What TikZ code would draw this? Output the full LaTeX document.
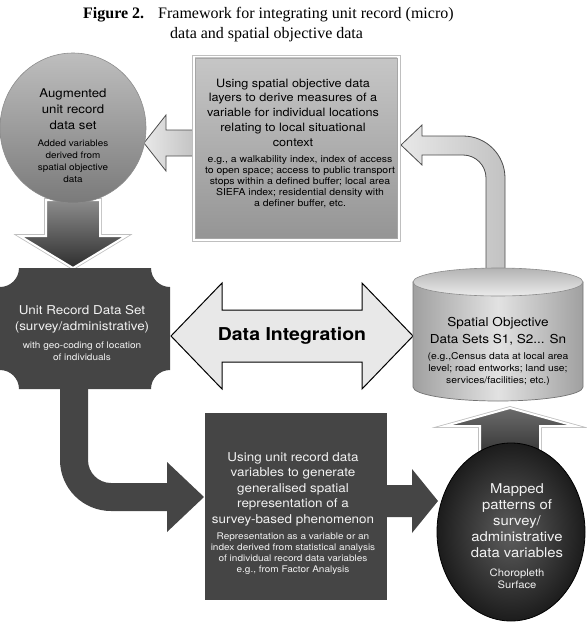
\documentclass[tikz,border=0pt]{standalone}
\usepackage{fontspec}
\setmainfont{Liberation Serif}
\newfontfamily\hv{TeX Gyre Heros}[FakeStretch=1.1]
\definecolor{darkfill}{HTML}{454545}
\definecolor{boxtop}{HTML}{C6C6C6}
\definecolor{boxbot}{HTML}{959595}
\definecolor{augtop}{HTML}{BEBEBE}
\definecolor{augbot}{HTML}{7A7A7A}
\definecolor{lightA}{HTML}{E8E8E8}
\definecolor{lightB}{HTML}{C2C2C2}
\definecolor{dtop}{HTML}{8C8C8C}
\definecolor{dbot}{HTML}{2E2E2E}
\definecolor{ellin}{HTML}{5E5E5E}
\definecolor{ellout}{HTML}{1C1C1C}
\definecolor{cylmid}{HTML}{E2E2E2}
\definecolor{cylside}{HTML}{A0A0A0}
\definecolor{difill}{HTML}{E8E8E8}
\definecolor{wtext}{HTML}{F2F2F2}
\tikzset{
  txt/.style={align=center, inner sep=0pt},
  lightarrow/.style={draw=black!70, line width=0.8pt, left color=lightA, right color=lightB},
  darkarrow/.style={draw=white, line width=2pt, top color=dtop, bottom color=dbot,
                    preaction={draw=black!25, line width=3.6pt}},
  darkshape/.style={fill=darkfill},
}
\begin{document}
\begin{tikzpicture}[x=1pt,y=-1pt]
\useasboundingbox (0,0) rectangle (586,626);

% ---- title
\node[anchor=base west, inner sep=0pt, font=\fontsize{16}{20}\selectfont\bfseries] (fig) at (83,19) {Figure 2.};
\node[anchor=base west, inner sep=0pt, font=\fontsize{16}{20}\selectfont] (t1) at (158,19) {Framework for integrating unit record (micro)};
\node[anchor=base west, inner sep=0pt, font=\fontsize{16}{20}\selectfont] (t2) at (170,38) {data and spatial objective data};

% ---- arrows from the upper gray box
\draw[lightarrow] (196,130) -- (166,130) -- (166,115) -- (144,143) -- (166,171) -- (166,156) -- (196,156) -- cycle;
\draw[lightarrow] (401,145) -- (422,125) -- (422,136) -- (463,136)
   arc[start angle=-90, end angle=0, radius=42] -- (505,278) -- (486,278) -- (486,178)
   arc[start angle=0, end angle=-90, radius=23] -- (422,155) -- (422,165) -- cycle;

% ---- upper gray box
\draw[black!25, fill=white] (192,55) rectangle (400,241);
\shade[top color=boxtop, bottom color=boxbot, draw=black!35] (195,58) rectangle (397,238);
\node[txt, font=\hv\fontsize{11.5}{14.7}\selectfont] (gbig) at (293,112.5)
  {Using spatial objective data\\layers to derive measures of a\\variable for individual locations\\relating to local situational\\context};
\node[txt, font=\hv\fontsize{9.5}{11.1}\selectfont] (gsmall) at (300,181.5)
  {e.g., a walkability index, index of access\\to open space; access to public transport\\stops within a defined buffer; local area\\SIEFA index; residential density with\\a definer buffer, etc.};

% ---- down arrow and augmented circle
\draw[darkarrow] (46,200) -- (100,200) -- (100,236) -- (126,236) -- (73,268) -- (20,236) -- (46,236) -- cycle;
\draw[black!45, line width=0.6pt, top color=augtop, bottom color=augbot] (73,128) ellipse [x radius=73, y radius=75];
\node[txt, font=\hv\fontsize{12}{16}\selectfont] (aug) at (73,109) {Augmented\\unit record\\data set};
\node[txt, font=\hv\fontsize{9}{12}\selectfont] (augs) at (73,161.5) {Added variables\\derived from\\spatial objective\\data};

% ---- unit record box with L arrow
\fill[darkfill] (60,385) -- (60,460) arc[start angle=180, end angle=90, radius=51]
   -- (167,511) -- (167,532) -- (204,497) -- (167,462) -- (167,483) -- (111,483)
   arc[start angle=90, end angle=180, radius=23] -- (88,385) -- cycle;
\fill[darkfill] (19,268) -- (151,268) arc[start angle=180, end angle=90, radius=19]
   -- (170,370) arc[start angle=-90, end angle=-180, radius=19]
   -- (19,389) arc[start angle=0, end angle=-90, radius=19]
   -- (0,287) arc[start angle=90, end angle=0, radius=19] -- cycle;
\node[txt, text=wtext, font=\hv\fontsize{12.2}{16}\selectfont] (ur) at (82,319) {Unit Record Data Set\\(survey/administrative)};
\node[txt, text=wtext, font=\hv\fontsize{9.1}{12}\selectfont] (urs) at (82,351) {with geo-coding of location\\of individuals};

% ---- data integration double arrow
\draw[black, line width=1pt, fill=difill] (171,336) -- (222,283) -- (222,310) -- (362,310) -- (362,283)
   -- (413,336) -- (362,389) -- (362,362) -- (222,362) -- (222,389) -- cycle;
\node[txt, font=\hv\bfseries\fontsize{17.7}{20}\selectfont] (di) at (292,336) {Data Integration};

% ---- cylinder
\draw[black!55, line width=0.7pt, left color=cylside, right color=cylside, middle color=cylmid]
   (413,282) -- (413,387) arc[start angle=180, end angle=0, x radius=85, y radius=14] -- (583,282) -- cycle;
\draw[black!45, line width=0.6pt, top color=black!30, bottom color=black!8] (498,282) ellipse [x radius=85, y radius=14];
\node[txt, font=\hv\fontsize{12.3}{17}\selectfont] (cyl) at (498,331.5) {Spatial Objective\\Data Sets S1, S2... Sn};
\node[txt, font=\hv\fontsize{9.4}{12.2}\selectfont] (cyls) at (498,369) {(e.g.,Census data at local area\\level; road entworks; land use;\\services/facilities; etc.)};

% ---- bottom box and arrow to ellipse
\fill[darkfill] (205,413) rectangle (387,600);
\node[txt, text=wtext, font=\hv\fontsize{12.2}{15.5}\selectfont] (bb) at (293,489)
  {Using unit record data\\variables to generate\\generalised spatial\\representation of a\\survey-based phenomenon};
\node[txt, text=wtext, font=\hv\fontsize{9.1}{11}\selectfont] (bbs) at (293,553.5)
  {Representation as a variable or an\\index derived from statistical analysis\\of individual record data variables\\e.g., from Factor Analysis};
\fill[darkfill] (385,485) -- (412,485) -- (412,469) -- (438,501) -- (412,533) -- (412,517) -- (385,517) -- cycle;

% ---- up arrow and dark ellipse
\draw[darkarrow, top color=black!58, bottom color=black!78] (510,408) -- (575,426) -- (540,426) -- (540,452) -- (480,452) -- (480,426) -- (445,426) -- cycle;
\draw[black, line width=0.8pt, inner color=ellin, outer color=ellout] (511,532) ellipse [x radius=74, y radius=89];
\node[txt, text=wtext, font=\hv\fontsize{13.5}{16}\selectfont] (ell) at (517,521)
  {Mapped\\patterns of\\survey/\\administrative\\data variables};
\node[txt, text=wtext, font=\hv\fontsize{10.2}{12}\selectfont] (ells) at (517,579) {Choropleth\\Surface};
\end{tikzpicture}
\end{document}
